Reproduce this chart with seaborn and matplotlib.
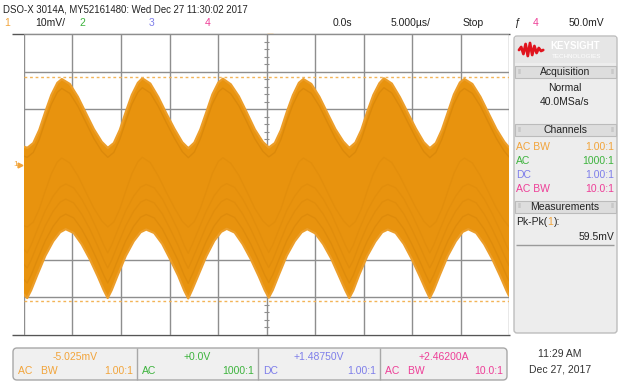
import numpy as np
import pandas as pd
import seaborn as sns
import matplotlib.pyplot as plt
from matplotlib.patches import Rectangle, FancyBboxPatch

# channel 1 envelope: time in us, level in mV
t_upper = [-25.0, -24.66, -24.04, -23.42, -22.80, -22.18, -21.56,
           -21.10, -20.28, -19.45, -18.63, -17.80, -16.98, -16.36, -15.74, -15.12, -14.50, -13.88, -13.26,
           -12.80, -11.98, -11.15, -10.33, -9.50, -8.68, -8.06, -7.44, -6.82, -6.20, -5.58, -4.96,
           -4.50, -3.68, -2.85, -2.03, -1.20, -0.38, 0.24, 0.86, 1.48, 2.10, 2.72, 3.34,
           3.80, 4.62, 5.45, 6.27, 7.10, 7.92, 8.54, 9.16, 9.78, 10.40, 11.02, 11.64,
           12.10, 12.92, 13.75, 14.57, 15.40, 16.22, 16.84, 17.46, 18.08, 18.70, 19.32, 19.94,
           20.40, 21.22, 22.05, 22.87, 23.70, 24.52, 25.0]
v_upper = [5.0, 4.7, 6.0, 9.5, 14.3, 18.8, 22.0,
           23.0, 21.7, 18.3, 14.0, 9.7, 6.3, 4.7, 6.0, 9.5, 14.3, 18.8, 22.0,
           23.2, 21.8, 18.2, 13.9, 9.8, 6.2, 4.6, 6.1, 9.6, 14.2, 18.9, 22.1,
           23.1, 21.6, 18.4, 14.1, 9.6, 6.3, 4.8, 6.0, 9.4, 14.3, 18.7, 22.0,
           23.0, 21.7, 18.3, 14.0, 9.7, 6.4, 4.7, 6.1, 9.5, 14.4, 18.8, 21.9,
           23.2, 21.8, 18.2, 14.0, 9.8, 6.2, 4.6, 6.0, 9.5, 14.2, 18.9, 22.1,
           23.0, 21.7, 18.3, 14.0, 9.7, 6.3, 4.8]
t_lower = [-25.0, -24.67, -24.26, -23.64, -22.81, -21.99, -21.27,
           -20.70, -19.88, -19.05, -18.23, -17.40, -16.78, -16.37, -15.96, -15.34, -14.51, -13.69, -12.97,
           -12.40, -11.58, -10.75, -9.93, -9.10, -8.48, -8.07, -7.66, -7.04, -6.21, -5.39, -4.67,
           -4.10, -3.28, -2.45, -1.63, -0.80, -0.18, 0.23, 0.64, 1.26, 2.09, 2.91, 3.63,
           4.20, 5.02, 5.85, 6.67, 7.50, 8.12, 8.53, 8.94, 9.56, 10.39, 11.21, 11.93,
           12.50, 13.32, 14.15, 14.97, 15.80, 16.42, 16.83, 17.24, 17.86, 18.69, 19.51, 20.23,
           20.80, 21.62, 22.45, 23.27, 24.10, 24.72, 25.0]
v_lower = [-34.3, -35.2, -33.1, -29.1, -24.0, -20.1, -17.7,
           -16.9, -17.9, -20.9, -24.8, -29.4, -33.1, -35.2, -33.1, -29.1, -24.0, -20.1, -17.7,
           -17.0, -17.9, -20.8, -24.9, -29.3, -33.2, -35.3, -33.0, -29.2, -24.1, -20.0, -17.6,
           -16.8, -17.8, -20.9, -24.8, -29.4, -33.1, -35.1, -33.1, -29.1, -23.9, -20.1, -17.7,
           -16.9, -18.0, -20.9, -24.7, -29.5, -33.1, -35.2, -33.2, -29.0, -24.0, -20.2, -17.7,
           -17.0, -17.9, -20.8, -24.8, -29.4, -33.0, -35.2, -33.1, -29.1, -24.0, -20.1, -17.6,
           -16.9, -17.9, -20.9, -24.8, -29.4, -33.1, -34.6]

pk_max = 23.5       # measurement cursors (Pk-Pk = 59.5 mV)
pk_min = -36.0
offset_mv = -5.025
mv_per_div = 10
us_per_div = 5

ch_names = ["AC BW", "AC", "DC", "AC BW"]
ch_probe = ["1.00:1", "1000:1", "1.00:1", "10.0:1"]
ch_offset = ["-5.025mV", "+0.0V", "+1.48750V", "+2.46200A"]
ch_colors = ["#F2A43A", "#3DB33D", "#7E7EEA", "#EE3E97"]

sns.set_theme(style="white")
plt.rcParams["font.family"] = ["Liberation Sans Narrow", "Liberation Sans", "DejaVu Sans"]
plt.rcParams["font.size"] = 7.5

up = pd.DataFrame({"t": t_upper, "v": v_upper})
lo = pd.DataFrame({"t": t_lower, "v": v_lower})

fig = plt.figure(figsize=(6.19, 3.85), dpi=100)
bg = fig.add_axes([0, 0, 1, 1])
bg.set_xlim(0, 619)
bg.set_ylim(385, 0)
bg.axis("off")

scope = fig.add_axes([24 / 619, 50 / 385, 485 / 619, 301 / 385])
scope.set_xlim(-5 * us_per_div, 5 * us_per_div)
scope.set_ylim(offset_mv - 4 * mv_per_div, offset_mv + 4 * mv_per_div)
scope.set_facecolor("white")
for s in scope.spines.values():
    s.set_visible(False)
scope.set_xticks([])
scope.set_yticks([])

# graticule
grid_c = "#8E8E8E"
for k in range(-5, 6):
    scope.axvline(k * us_per_div, color=grid_c, lw=1, zorder=1)
for k in range(-4, 5):
    scope.axhline(offset_mv + k * mv_per_div, color=grid_c, lw=1, zorder=1)
minor_v = offset_mv + np.arange(-20, 21) * mv_per_div / 5
scope.hlines(minor_v, -0.25, 0.25, color=grid_c, lw=0.8, zorder=1)
minor_t = np.arange(-25, 26) * us_per_div / 5
scope.vlines(minor_t, offset_mv - 0.6, offset_mv + 0.6, color=grid_c, lw=0.8, zorder=1)

# waveform band
orange = "#E8930E"
scope.fill(np.r_[up["t"], lo["t"][::-1]], np.r_[up["v"], lo["v"][::-1]],
           color=orange, lw=0, zorder=2)
sns.lineplot(data=up, x="t", y="v", ax=scope, color="#EC9E2A", lw=1.6,
             estimator=None, sort=False, zorder=3)
sns.lineplot(data=lo, x="t", y="v", ax=scope, color="#EC9E2A", lw=1.6,
             estimator=None, sort=False, zorder=3)

# fainter overlapping sweeps inside the band
dark = "#C97A06"
for shift, a in [(-2.5, 0.4), (-21.0, 0.18)]:
    sns.lineplot(x=up["t"], y=up["v"] + shift, ax=scope, color=dark, lw=1.0,
                 alpha=a, estimator=None, sort=False, zorder=3)
for shift, a in [(4.0, 0.3), (8.0, 0.22), (12.0, 0.18)]:
    sns.lineplot(x=lo["t"], y=lo["v"] + shift, ax=scope, color=dark, lw=1.0,
                 alpha=a, estimator=None, sort=False, zorder=3)

scope.axhline(pk_max, color="#F3B457", lw=1, ls=(0, (2, 2)), zorder=4)
scope.axhline(pk_min, color="#F3B457", lw=1, ls=(0, (2, 2)), zorder=4)
scope.set_xlabel("")
scope.set_ylabel("")

# screen frame lines and markers
bg.hlines([34, 335], 12, 510, color="#555555", lw=1)
bg.plot([43, 125, 207, 285, 368, 450], [38] * 6, "v", color="black", ms=4.5)
bg.plot([270], [37], "v", color="#F0A030", ms=4.5)
bg.text(13, 165, "1", color=ch_colors[0], fontsize=6, va="center")
bg.plot([20], [165], ">", color=ch_colors[0], ms=3.5)

# top status line
bg.text(3, 9, "DSO-X 3014A, MY52161480: Wed Dec 27 11:30:02 2017", va="center",
        color="#222222", fontsize=6.9)
bg.text(7, 23, "1", color=ch_colors[0], va="center", ha="center")
bg.text(35, 23, "10mV/", color="#222222", va="center")
bg.text(82, 23, "2", color=ch_colors[1], va="center", ha="center")
bg.text(152, 23, "3", color=ch_colors[2], va="center", ha="center")
bg.text(208, 23, "4", color=ch_colors[3], va="center", ha="center")
bg.text(342, 23, "0.0s", color="#222222", va="center", ha="center")
bg.text(411, 23, "5.000µs/", color="#222222", va="center", ha="center")
bg.text(473, 23, "Stop", color="#222222", va="center", ha="center")
bg.text(517, 23, "ƒ", color="#222222", va="center", ha="center")
bg.text(536, 23, "4", color=ch_colors[3], va="center", ha="center")
bg.text(586, 23, "50.0mV", color="#222222", va="center", ha="center")

# right side panel
bg.add_patch(FancyBboxPatch((514, 36), 103, 297, boxstyle="round,pad=0,rounding_size=3",
                            fc="#EDEDED", ec="#BDBDBD", lw=1))
bg.add_patch(Rectangle((515, 37), 101, 26, fc="#E6E6E6", ec="none"))
logo_x = 519 + np.arange(12) * 2.2
logo_y = 50 + np.array([0, -3, 4, -6, 6, -7, 5, -4, 3, -2, 1, 0])
bg.plot(logo_x, logo_y, color="#E0141E", lw=2)
bg.text(550, 46, "KEYSIGHT", color="white", fontsize=7, fontweight="bold", va="center")
bg.text(552, 56, "TECHNOLOGIES", color="white", fontsize=4.5, va="center")

for y0, label in [(66, "Acquisition"), (124, "Channels"), (201, "Measurements")]:
    bg.add_patch(Rectangle((515, y0), 101, 12, fc="#DDDDDD", ec="#BBBBBB", lw=0.8))
    bg.text(565, y0 + 6, label, va="center", ha="center", color="#222222")
    bg.text(519, y0 + 6, "‖", va="center", ha="center", color="#B5B5B5", fontsize=5)
    bg.text(612, y0 + 6, "‖", va="center", ha="center", color="#B5B5B5", fontsize=5)
bg.text(565, 88, "Normal", va="center", ha="center", color="#222222")
bg.text(565, 102, "40.0MSa/s", va="center", ha="center", color="#222222")
for i in range(4):
    y = 147 + i * 14
    bg.text(516, y, ch_names[i], color=ch_colors[i], va="center")
    bg.text(614, y, ch_probe[i], color=ch_colors[i], va="center", ha="right")

# "Pk-Pk(1):" with the channel number coloured, pieces placed end to end
fig.canvas.draw()
rend = fig.canvas.get_renderer()
inv = bg.transData.inverted()
x_cur = 516
for piece, col in [("Pk-Pk(", "#222222"), ("1", ch_colors[0]), ("):", "#222222")]:
    t = bg.text(x_cur, 222, piece, color=col, va="center")
    ext = t.get_window_extent(rend)
    x_cur = inv.transform((ext.x1, ext.y0))[0] + 0.3
bg.text(614, 237, "59.5mV", color="#222222", va="center", ha="right")
bg.hlines(245, 516, 614, color="#9A9A9A", lw=1)

# bottom channel boxes
box_x = [13, 137, 258, 380, 507]
bg.add_patch(FancyBboxPatch((13, 348), 494, 32, boxstyle="round,pad=0,rounding_size=4",
                            fc="#F0F0F0", ec="#A8A8A8", lw=1))
bg.vlines(box_x[1:4], 348, 380, color="#A8A8A8", lw=1)
for i in range(4):
    x0, x1 = box_x[i], box_x[i + 1]
    bg.text((x0 + x1) / 2, 357, ch_offset[i], color=ch_colors[i], va="center", ha="center")
    bg.text(x0 + 5, 371, ch_names[i].replace(" ", "   "), color=ch_colors[i], va="center")
    bg.text(x1 - 4, 371, ch_probe[i], color=ch_colors[i], va="center", ha="right")

bg.text(560, 354, "11:29 AM", color="#333333", va="center", ha="center")
bg.text(560, 369, "Dec 27, 2017", color="#333333", va="center", ha="center")

fig.savefig("out.png", dpi=100)
